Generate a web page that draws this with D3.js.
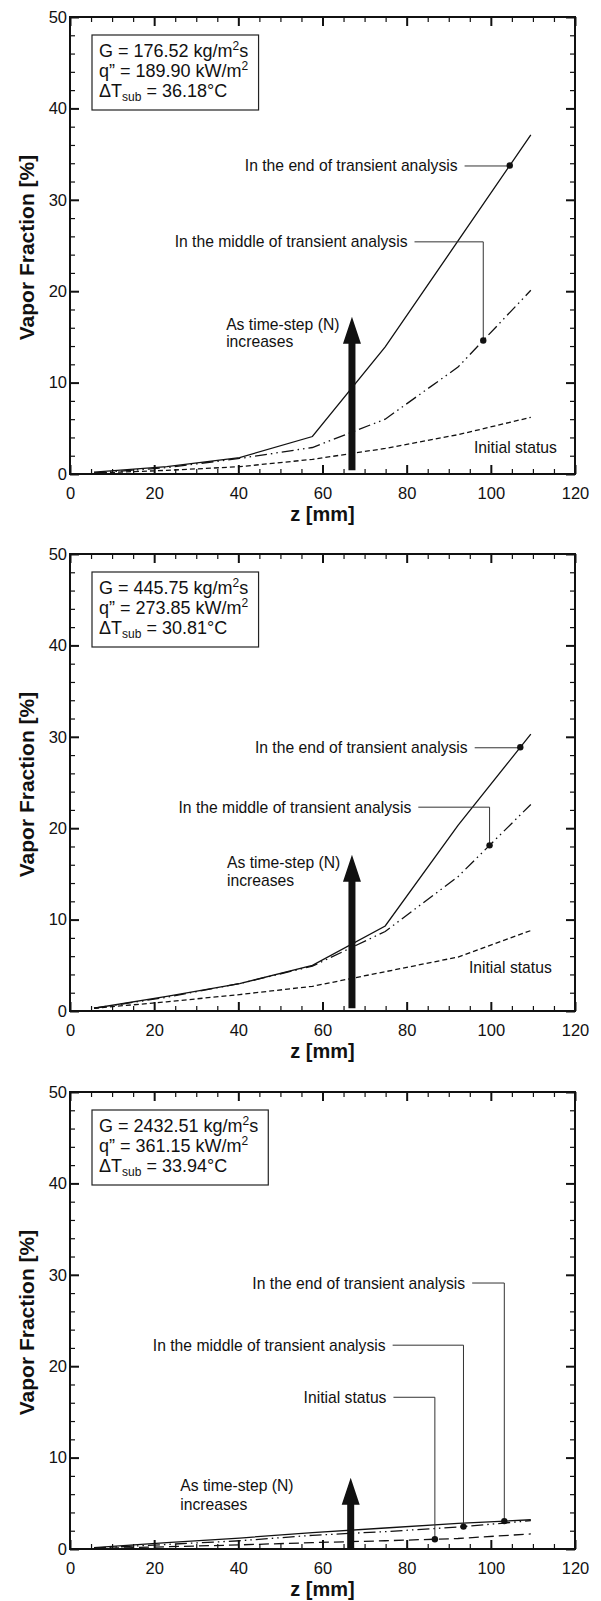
<!DOCTYPE html>
<html>
<head>
<meta charset="utf-8">
<script src="https://cdn.jsdelivr.net/npm/d3@7"></script>
<style>
  body { margin: 0; background: #fff; }
  svg text { font-family: "Liberation Sans", Arial, Helvetica, sans-serif; fill: #111; }
</style>
</head>
<body>
<svg id="fig" width="601" height="1601"></svg>
<script>
// Axial nodes along the heated section [mm]
const zNodes = [5.7, 23.0, 40.3, 57.6, 74.9, 92.2, 109.5];

// Vapor fraction [%] at each node, case 1
const endVF1  = [0.2, 0.8, 1.8, 4.1, 13.9, 25.5, 37.1];
const midVF1  = [0.1, 0.7, 1.7, 2.9, 6.0, 11.7, 20.1];
const initVF1 = [0.1, 0.4, 0.8, 1.6, 2.8, 4.3, 6.2];

// case 2
const endVF2  = [0.3, 1.6, 3.0, 5.0, 9.3, 20.3, 30.3];
const midVF2  = [0.3, 1.5, 3.0, 4.9, 8.7, 14.7, 22.6];
const initVF2 = [0.3, 1.0, 1.8, 2.7, 4.3, 5.9, 8.8];

// case 3
const endVF3  = [0.15, 0.7, 1.2, 1.8, 2.3, 2.8, 3.2];
const midVF3  = [0.1, 0.5, 0.9, 1.5, 1.9, 2.4, 3.1];
const initVF3 = [0.05, 0.25, 0.45, 0.7, 0.9, 1.15, 1.65];

// Operating conditions of each case
const massFlux   = ["176.52", "445.75", "2432.51"];
const heatFlux   = ["189.90", "273.85", "361.15"];
const subcooling = ["36.18", "30.81", "33.94"];

// Axis ticks
const xTicks = [0, 20, 40, 60, 80, 100, 120];
const yTicks = [0, 10, 20, 30, 40, 50];
const xMinor = d3.range(0, 121, 5).filter(v => v % 20 !== 0);
const yMinor = d3.range(0, 51, 2).filter(v => v % 10 !== 0);

// Annotation texts
const labelEnd  = "In the end of transient analysis";
const labelMid  = "In the middle of transient analysis";
const labelInit = "Initial status";
const arrowText = ["As time-step (N)", "increases"];

// ---- layout ----
const plotL = 70, plotR = 575, plotH = 457;
const panelTops = [17, 554, 1092];

const cases = [
  { end: endVF1, mid: midVF1, init: initVF1, initDash: "5,3",
    endLab: { z: 92.1, v: 33.7, dotZ: 104.5 },
    midLab: { z: 80.2, v: 25.4, dotZ: 98.2 },
    initLab: { z: 96.0, v: 2.9, start: true },
    arrow: { z: 67, base: 0.4, tip: 17.2 },
    arrowLab: { z: 37.1, v: [16.4, 14.5] } },
  { end: endVF2, mid: midVF2, init: initVF2, initDash: "5,3",
    endLab: { z: 94.5, v: 28.8, dotZ: 107 },
    midLab: { z: 81.1, v: 22.3, dotZ: 99.7 },
    initLab: { z: 94.8, v: 4.8, start: true },
    arrow: { z: 67, base: 0.3, tip: 17.1 },
    arrowLab: { z: 37.3, v: [16.2, 14.3] } },
  { end: endVF3, mid: midVF3, init: initVF3, initDash: "10,5",
    endLab: { z: 93.9, v: 29.1, dotZ: 103.2 },
    midLab: { z: 75.0, v: 22.3, dotZ: 93.5 },
    initLab: { z: 75.2, v: 16.6, dotZ: 86.7 },
    arrow: { z: 66.7, base: 0, tip: 7.8 },
    arrowLab: { z: 26.2, v: [7.0, 4.9] } }
];

const svg = d3.select("#fig");
const x = d3.scaleLinear().domain([0, 120]).range([plotL, plotR]);

function valueAt(series, z) {
  return d3.scaleLinear().domain(zNodes).range(series)(z);
}

function styleAxis(sel, width) {
  sel.select(".domain").remove();
  sel.selectAll(".tick line").attr("stroke", "#111").attr("stroke-width", width);
}

cases.forEach((c, i) => {
  const top = panelTops[i];
  const y = d3.scaleLinear().domain([0, 50]).range([top + plotH, top]);
  const g = svg.append("g");

  // minor ticks on all four sides
  const minorSpecs = [
    [d3.axisBottom(x).tickValues(xMinor), `translate(0,${top + plotH})`],
    [d3.axisTop(x).tickValues(xMinor), `translate(0,${top})`],
    [d3.axisLeft(y).tickValues(yMinor), `translate(${plotL},0)`],
    [d3.axisRight(y).tickValues(yMinor), `translate(${plotR},0)`]
  ];
  minorSpecs.forEach(([ax, tr]) => {
    g.append("g").attr("transform", tr)
      .call(ax.tickSize(-5).tickFormat(""))
      .call(s => styleAxis(s, 1.2));
  });

  // major ticks with labels
  g.append("g").attr("transform", `translate(0,${top + plotH})`)
    .call(d3.axisBottom(x).tickValues(xTicks).tickSize(-9).tickPadding(13))
    .call(s => styleAxis(s, 2))
    .call(s => s.selectAll("text").attr("font-size", "16.5px").attr("fill", "#111"));
  g.append("g").attr("transform", `translate(0,${top})`)
    .call(d3.axisTop(x).tickValues(xTicks).tickSize(-9).tickFormat(""))
    .call(s => styleAxis(s, 2));
  g.append("g").attr("transform", `translate(${plotL},0)`)
    .call(d3.axisLeft(y).tickValues(yTicks).tickSize(-9).tickPadding(3))
    .call(s => styleAxis(s, 2))
    .call(s => s.selectAll("text").attr("font-size", "16.5px").attr("fill", "#111"));
  g.append("g").attr("transform", `translate(${plotR},0)`)
    .call(d3.axisRight(y).tickValues(yTicks).tickSize(-9).tickFormat(""))
    .call(s => styleAxis(s, 2));

  // plot frame
  g.append("rect")
    .attr("x", plotL).attr("y", top)
    .attr("width", plotR - plotL).attr("height", plotH)
    .attr("fill", "none").attr("stroke", "#111").attr("stroke-width", 2);

  // axis titles
  g.append("text")
    .attr("x", (plotL + plotR) / 2).attr("y", top + plotH + 47)
    .attr("text-anchor", "middle").attr("font-size", "20px").attr("font-weight", "bold")
    .text("z [mm]");
  g.append("text")
    .attr("transform", `translate(34,${top + plotH / 2 + 2}) rotate(-90)`)
    .attr("text-anchor", "middle").attr("font-size", "21px").attr("font-weight", "bold")
    .text("Vapor Fraction [%]");

  // vapor fraction curves
  const line = d3.line().x((d, j) => x(zNodes[j])).y(d => y(d));
  g.append("path").datum(c.init).attr("d", line)
    .attr("fill", "none").attr("stroke", "#111").attr("stroke-width", 1.3)
    .attr("stroke-dasharray", c.initDash);
  g.append("path").datum(c.mid).attr("d", line)
    .attr("fill", "none").attr("stroke", "#111").attr("stroke-width", 1.3)
    .attr("stroke-dasharray", "12,4,1.5,4,1.5,4");
  g.append("path").datum(c.end).attr("d", line)
    .attr("fill", "none").attr("stroke", "#111").attr("stroke-width", 1.3);

  // time-step arrow
  const ax = x(c.arrow.z), yb = y(c.arrow.base), yt = y(c.arrow.tip);
  const headLen = 27, headHalf = 9, shaftHalf = 3.5;
  g.append("path")
    .attr("d", `M${ax - shaftHalf},${yb} L${ax - shaftHalf},${yt + headLen} L${ax - headHalf},${yt + headLen}
                L${ax},${yt} L${ax + headHalf},${yt + headLen} L${ax + shaftHalf},${yt + headLen}
                L${ax + shaftHalf},${yb} Z`)
    .attr("fill", "#111");
  arrowText.forEach((t, k) => {
    g.append("text")
      .attr("x", x(c.arrowLab.z)).attr("y", y(c.arrowLab.v[k])).attr("dy", "0.35em")
      .attr("font-size", "15.7px").text(t);
  });

  // labelled curves with leader lines and markers
  const labelled = [
    [c.endLab, labelEnd, c.end],
    [c.midLab, labelMid, c.mid],
    [c.initLab, labelInit, c.init]
  ];
  labelled.forEach(([lab, txt, series]) => {
    g.append("text")
      .attr("x", x(lab.z)).attr("y", y(lab.v)).attr("dy", "0.35em")
      .attr("text-anchor", lab.start ? "start" : "end")
      .attr("font-size", "15.7px").text(txt);
    if (lab.dotZ === undefined) return;
    const dv = valueAt(series, lab.dotZ);
    g.append("path")
      .attr("d", `M${x(lab.z) + 7},${y(lab.v)} H${x(lab.dotZ)} V${y(dv)}`)
      .attr("fill", "none").attr("stroke", "#333").attr("stroke-width", 1);
    g.append("circle")
      .attr("cx", x(lab.dotZ)).attr("cy", y(dv)).attr("r", 3.2).attr("fill", "#111");
  });

  // operating-condition box
  const bx = plotL + 22, by = top + 18;
  const info = g.append("g");
  const t1 = info.append("text").attr("x", bx + 7).attr("y", by + 22).attr("font-size", "18px");
  t1.append("tspan").text(`G = ${massFlux[i]} kg/m`);
  t1.append("tspan").attr("font-size", "12px").attr("dy", -7).text("2");
  t1.append("tspan").attr("dy", 7).text("s");
  const t2 = info.append("text").attr("x", bx + 7).attr("y", by + 42).attr("font-size", "18px");
  t2.append("tspan").text(`q\u201D = ${heatFlux[i]} kW/m`);
  t2.append("tspan").attr("font-size", "12px").attr("dy", -7).text("2");
  const t3 = info.append("text").attr("x", bx + 7).attr("y", by + 62).attr("font-size", "18px");
  t3.append("tspan").text("\u0394T");
  t3.append("tspan").attr("font-size", "12px").attr("dy", 4).text("sub");
  t3.append("tspan").attr("dy", -4).text(` = ${subcooling[i]}\u00B0C`);
  const bw = d3.max([t1, t2, t3], t => t.node().getBBox().width) + 17;
  info.insert("rect", "text")
    .attr("x", bx).attr("y", by).attr("width", bw).attr("height", 75)
    .attr("fill", "#fff").attr("stroke", "#222").attr("stroke-width", 1.2);
});
</script>
</body>
</html>
